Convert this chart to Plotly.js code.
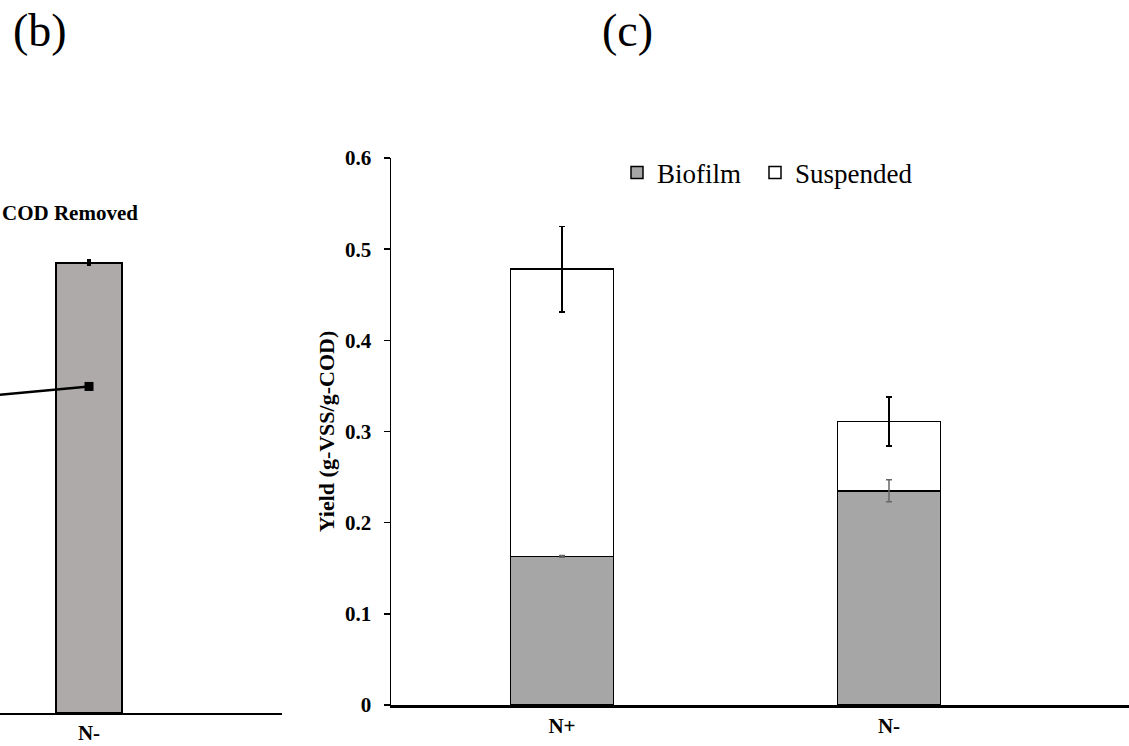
<!DOCTYPE html>
<html>
<head>
<meta charset="utf-8">
<script src="https://cdn.plot.ly/plotly-3.0.1.min.js"></script>
<style>html,body{margin:0;padding:0;background:#fff;}#chart{width:1129px;height:746px;}</style>
</head>
<body>
<div id="chart"></div>
<script>
// Panel (c) data
const categories = ['N+', 'N-'];
const biofilm = [0.163, 0.235];
const biofilmErr = [0.001, 0.012];
const suspended = [0.315, 0.076];
const suspendedErr = [0.047, 0.027];
const yTicks = [0, 0.1, 0.2, 0.3, 0.4, 0.5, 0.6];

// Panel (b) partial data (only N- visible)
const codCategories = ['N+', 'N-'];
const codBarCategories = ['N-'];
const codBar = [82.3];
const codBarErr = [0.4];
const codLine = [53.1, 59.7];

const W = 1129, H = 746;
const px = x => x / W;
const py = y => (H - y) / H;

const serif = '"Liberation Serif", "Times New Roman", Times, serif';

const traces = [
  {
    type: 'bar', name: 'Biofilm', x: categories, y: biofilm,
    xaxis: 'x', yaxis: 'y', width: 0.315, legend: 'legend',
    marker: {color: '#A6A6A6', line: {color: '#000', width: 1.5}}
  },
  {
    type: 'bar', name: 'Suspended', x: categories, y: suspended,
    xaxis: 'x', yaxis: 'y', width: 0.315, legend: 'legend2',
    marker: {color: '#FFFFFF', line: {color: '#000', width: 1.5}},
    error_y: {type: 'data', array: suspendedErr, visible: true, color: '#000', thickness: 1.5, width: 3}
  },
  {
    // error bars of the Biofilm segment, drawn above the stacked bars
    type: 'scatter', mode: 'markers', name: 'Biofilm error', x: categories, y: biofilm,
    xaxis: 'x', yaxis: 'y', showlegend: false, hoverinfo: 'skip',
    marker: {size: 1, opacity: 0, color: '#000'},
    error_y: {type: 'data', array: biofilmErr, visible: true, color: '#666666', thickness: 1.5, width: 3}
  },
  {
    type: 'bar', name: 'COD Removed bar', x: codBarCategories, y: codBar,
    xaxis: 'x2', yaxis: 'y2', width: 0.171, showlegend: false,
    marker: {color: '#AEAAAA', line: {color: '#000', width: 2}},
    error_y: {type: 'data', array: codBarErr, visible: true, color: '#000', thickness: 2.5, width: 2}
  },
  {
    type: 'scatter', mode: 'lines+markers', name: 'COD Removed', x: codCategories, y: codLine,
    xaxis: 'x2', yaxis: 'y2', showlegend: false,
    line: {color: '#000', width: 2.5},
    marker: {symbol: 'square', size: 9, color: '#000'}
  }
];

const legendStyle = {
  orientation: 'h', xanchor: 'left', y: py(173), yanchor: 'middle',
  font: {family: serif, size: 27, color: '#000'},
  bgcolor: 'rgba(0,0,0,0)', itemclick: false
};

const layout = {
  width: W, height: H,
  margin: {l: 0, r: 0, t: 0, b: 0},
  paper_bgcolor: '#fff', plot_bgcolor: 'rgba(0,0,0,0)',
  barmode: 'stack',
  showlegend: true,
  font: {family: serif, color: '#000'},
  legend: Object.assign({}, legendStyle, {x: px(617)}),
  legend2: Object.assign({}, legendStyle, {x: px(755)}),
  xaxis: {
    domain: [px(391), 1], anchor: 'y',
    type: 'category', categoryarray: categories, range: [-0.523, 1.734],
    showline: true, linecolor: '#000', linewidth: 2.5,
    ticks: '', showgrid: false, zeroline: false,
    tickfont: {family: serif, size: 21, weight: 'bold', color: '#000'},
    ticklabelstandoff: 0
  },
  yaxis: {
    domain: [py(705), py(158)], anchor: 'x',
    range: [0, 0.6], tickvals: yTicks, ticktext: yTicks.map(v => String(v)),
    showline: true, linecolor: '#000', linewidth: 1.5,
    ticks: 'outside', ticklen: 6, tickwidth: 1.5, tickcolor: '#000',
    showgrid: false, zeroline: false,
    tickfont: {family: serif, size: 21, weight: 'bold', color: '#000'},
    ticklabelstandoff: 8,
    title: {text: 'Yield (g-VSS/g-COD)', font: {family: serif, size: 22, weight: 'bold', color: '#000'}, standoff: 4}
  },
  xaxis2: {
    domain: [0, px(282)], anchor: 'y2',
    type: 'category', categoryarray: codCategories, range: [0.7694, 1.5],
    showline: true, linecolor: '#000', linewidth: 2,
    ticks: '', showgrid: false, zeroline: false,
    tickfont: {family: serif, size: 21, weight: 'bold', color: '#000'},
    ticklabelstandoff: 0
  },
  yaxis2: {
    domain: [py(713), py(166)], anchor: 'x2',
    range: [0, 100], visible: false, showgrid: false, zeroline: false
  },
  annotations: [
    {text: '(b)', xref: 'paper', yref: 'paper', x: px(40), y: py(30), xanchor: 'center', yanchor: 'middle',
     showarrow: false, font: {family: serif, size: 46, color: '#000'}},
    {text: '(c)', xref: 'paper', yref: 'paper', x: px(627), y: py(30), xanchor: 'center', yanchor: 'middle',
     showarrow: false, font: {family: serif, size: 46, color: '#000'}},
    {text: 'COD Removed', xref: 'paper', yref: 'paper', x: px(140), y: py(213), xanchor: 'right', yanchor: 'middle',
     showarrow: false, font: {family: serif, size: 21, weight: 'bold', color: '#000'}}
  ]
};

Plotly.newPlot('chart', traces, layout, {displayModeBar: false, staticPlot: true});
</script>
</body>
</html>
